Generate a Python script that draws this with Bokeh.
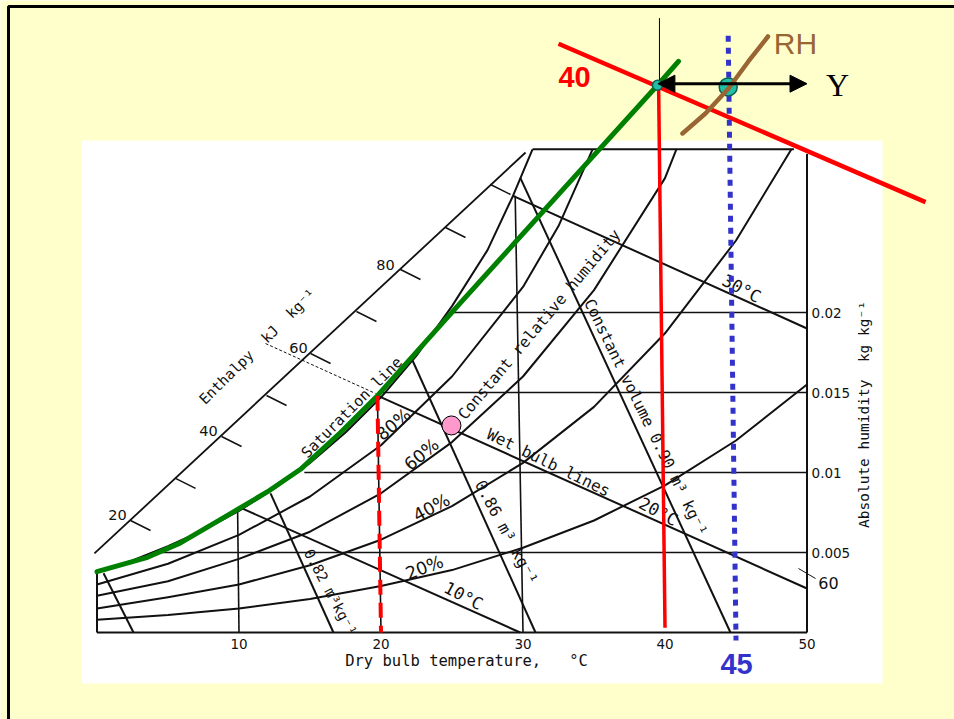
from math import radians

from bokeh.core.properties import value
from bokeh.embed import file_html
from bokeh.models import Arrow, NormalHead, Range1d
from bokeh.plotting import figure
from bokeh.resources import INLINE

# ------------------------------------------------------------------
# Psychrometric chart: dry bulb temperature (degC) vs absolute humidity (kg/kg)
# ------------------------------------------------------------------

# saturation line
sat_t = [0, 2.5, 5, 7.5, 10, 12.5, 15, 17.5, 20, 22.5, 25, 27.5, 29.3, 30.67]
sat_h = [0.0038, 0.0045, 0.0054, 0.0064, 0.0076, 0.0090, 0.0106, 0.0125, 0.0147,
         0.0173, 0.0204, 0.0239, 0.0273, 0.0302]

# constant relative humidity curves
rh80_t = [0, 5, 10, 15, 20, 25, 30, 32.5, 34.9]
rh80_h = [0.0030, 0.0043, 0.0061, 0.0085, 0.0117, 0.0160, 0.0216, 0.0254, 0.0302]
rh60_t = [0, 5, 10, 15, 20, 25, 30, 35, 40, 40.8]
rh60_h = [0.0023, 0.0032, 0.0046, 0.0063, 0.0087, 0.0119, 0.0160, 0.0214, 0.0284, 0.0302]
rh40_t = [0, 5, 10, 15, 20, 25, 30, 35, 40, 45, 48.9]
rh40_h = [0.0015, 0.0022, 0.0030, 0.0042, 0.0058, 0.0079, 0.0106, 0.0141, 0.0187, 0.0245, 0.0302]
rh20_t = [0, 5, 10, 15, 20, 25, 30, 35, 40, 45, 50]
rh20_h = [0.0008, 0.0011, 0.0015, 0.0021, 0.0029, 0.0039, 0.0053, 0.0070, 0.0092, 0.0120, 0.0155]

# chart box
t_max = 50
h_top = 0.0302
box_top_t = [30.67, 49.08]

# constant humidity lines (start on the saturation line, end at the right edge)
hum_levels = [0.005, 0.01, 0.015, 0.02]
hum_start_t = [4.26, 14.6, 19.8, 24.8]
hum_labels = ["0.005", "0.01", "0.015", "0.02"]

# dry bulb lines (start on the saturation line)
db_levels = [10, 20, 30]
db_top_t = [9.9, 19.75, 29.45]
db_top_h = [0.0078, 0.0148, 0.0273]
db_tick_labels = [10, 20, 30, 40, 50]

# wet bulb lines
wb_start_t = [10.1, 19.75, 29.26]
wb_start_h = [0.0078, 0.0148, 0.0273]
wb_end_t = [29.8, 50.0, 50.0]
wb_end_h = [0.0, 0.00275, 0.0190]

# constant specific volume lines
vol_top_t = [0.46, 12.22, 22.22, 29.82]
vol_top_h = [0.0037, 0.0087, 0.0170, 0.0284]
vol_bot_t = [2.57, 16.65, 30.88, 44.61]

# enthalpy scale
enth_axis_t = [-0.18, 30.18]
enth_axis_h = [0.00494, 0.0300]
enth_tick_t = [2.36, 5.53, 8.77, 11.94, 15.04, 18.27, 21.37, 24.54, 27.71]
enth_tick_h = [0.0070, 0.00963, 0.01225, 0.01481, 0.01744, 0.02006, 0.02269, 0.02531, 0.0280]
enth_labels = ["20", "40", "60", "80"]
enth_label_t = [1.44, 7.85, 14.19, 20.32]
enth_label_h = [0.007375, 0.012625, 0.0178, 0.0230]
enth_guide_t = [11.87, 19.61]
enth_guide_h = [0.01806, 0.01494]
enth_right_t = [49.4, 50.6]
enth_right_h = [0.0040, 0.003375]

# highlighted saturation curve and state lines drawn over the chart
green_t = [0, 3.56, 5.88, 8.2, 10.11, 12.01, 14.33, 17.15, 19.75, 25.8, 34.05, 39.47, 40.95]
green_h = [0.0038, 0.0047, 0.0056, 0.0068, 0.0078, 0.0088, 0.0102, 0.0125, 0.0148,
           0.0208, 0.0289, 0.0342, 0.0357]
dash20_t = [19.75, 20.0]
dash20_h = [0.0148, 0.0]
red40_t = [39.55, 40.0]
red40_h = [0.0342, 0.0003]
red_slant_t = [32.5, 58.35]
red_slant_h = [0.0368, 0.0269]
blue45_t = [44.45, 45.0]
blue45_h = [0.0373, -0.0005]
rh_curve_t = [47.25, 45.87, 44.47, 42.85, 41.23]
rh_curve_h = [0.03725, 0.03569, 0.0340, 0.03244, 0.03119]
state_t = [39.47, 44.45]
state_h = [0.0342, 0.0341]
pink_t, pink_h = 24.96, 0.01294
stem_t = [39.61, 39.61]
stem_h = [0.0384, 0.0342]
arrow_t = [39.5, 50.0]
arrow_h = 0.0343

# ------------------------------------------------------------------
X0, X1 = -6.796, 60.387
Y0, Y1 = -0.0054375, 0.0395
W, H = 954, 719
t_per_px = (X1 - X0) / W
h_per_px = (Y1 - Y0) / H

p = figure(width=W, height=H, x_range=Range1d(X0, X1), y_range=Range1d(Y0, Y1),
           output_backend="svg", toolbar_location=None, min_border=0,
           background_fill_color="#FFFFCC", border_fill_color="#FFFFCC",
           outline_line_color=None, x_axis_location=None, y_axis_location=None)
p.grid.visible = False

# slide frame and white scan panel
p.quad(left=[-6.232], right=[62], top=[0.039125], bottom=[-0.01],
       fill_color=None, line_color="black", line_width=3)
p.quad(left=[-1.092], right=[55.32], top=[0.03075], bottom=[-0.0031875],
       fill_color="white", line_color=None)

ink = "#111111"
SP = "\u00a0"  # non-breaking space keeps the wide letter spacing in SVG text

# chart box
p.line([0, t_max], [0, 0], line_color=ink, line_width=2)
p.line([0, 0], [0, sat_h[0]], line_color=ink, line_width=2)
p.line([t_max, t_max], [0, 0.0299], line_color=ink, line_width=2)
p.line(box_top_t, [h_top, h_top], line_color=ink, line_width=2)

# humidity and dry bulb lines
for h0, t0 in zip(hum_levels, hum_start_t):
    p.line([t0, t_max], [h0, h0], line_color=ink, line_width=1.6)
for t_b, t_t, h_t in zip(db_levels, db_top_t, db_top_h):
    p.line([t_t, t_b], [h_t, 0], line_color=ink, line_width=1.6)

# saturation and relative humidity curves
for ts, hs in [(sat_t, sat_h), (rh80_t, rh80_h), (rh60_t, rh60_h),
               (rh40_t, rh40_h), (rh20_t, rh20_h)]:
    p.line(ts, hs, line_color=ink, line_width=2, line_join="round")

# wet bulb lines
for a, b, c, d in zip(wb_start_t, wb_start_h, wb_end_t, wb_end_h):
    p.line([a, c], [b, d], line_color=ink, line_width=2)

# specific volume lines
for a, b, c in zip(vol_top_t, vol_top_h, vol_bot_t):
    p.line([a, c], [b, 0], line_color=ink, line_width=2)

# enthalpy scale
p.line(enth_axis_t, enth_axis_h, line_color=ink, line_width=1.8)
p.segment(x0=enth_tick_t, y0=enth_tick_h,
          x1=[t + 20 * t_per_px for t in enth_tick_t],
          y1=[h - 10 * h_per_px for h in enth_tick_h],
          line_color=ink, line_width=1.5)
p.line(enth_guide_t, enth_guide_h, line_color=ink, line_width=1, line_dash="3 2")
p.line(enth_right_t, enth_right_h, line_color=ink, line_width=1)


def label(t, h, s, size, angle=0.0, font="DejaVu Sans Mono", color=ink,
          style="normal", align="center", baseline="middle"):
    p.text(x=[t], y=[h], text=[s], angle=radians(angle), text_font=value(font),
           text_font_size=value(size), text_color=color, text_font_style=style,
           text_align=align, text_baseline=baseline)


# chart texts
for t in db_tick_labels:
    label(t, -0.000688, str(t), "13.5px", font="DejaVu Sans")
for h0, s in zip(hum_levels, hum_labels):
    label(50.32, h0, s, "13.5px", font="DejaVu Sans", align="left")
for t, h, s in zip(enth_label_t, enth_label_h, enth_labels):
    label(t, h, s, "14.5px", font="DejaVu Sans")
label(51.51, 0.003125, "60", "16px", font="DejaVu Sans")

label(26.02, -0.00175, "Dry bulb temperature," + SP * 3 + "\u00b0C", "15.5px")
label(53.98, 0.013625, "Absolute humidity" + SP * 2 + "kg kg\u207b\u00b9", "14.5px", angle=90)
label(11.3, 0.017875, "Enthalpy" + SP * 2 + "kJ" + SP * 2 + "kg\u207b\u00b9", "14.5px", angle=44.7)
label(17.94, 0.01406, "Saturation line", "15px", angle=45)
label(31.16, 0.01925, "Constant relative humidity", "15.5px", angle=50)
label(38.63, 0.01344, "Constant volume 0.90 m\u00b3 kg\u207b\u00b9", "15.5px", angle=-64)
label(28.84, 0.00625, "0.86 m\u00b3 kg\u207b\u00b9", "16px", angle=-62)
label(16.44, 0.0025, "0.82 m\u00b3kg\u207b\u00b9", "14.5px", angle=-62)
label(31.8, 0.010625, "Wet bulb lines", "16px", angle=-26)
label(25.81, 0.0023, "10\u00b0C", "17px", angle=-28)
label(39.54, 0.00756, "20\u00b0C", "17px", angle=-28)
label(45.39, 0.0215, "30\u00b0C", "17px", angle=-28)

for t, h, s, a in [(20.88, 0.0130, "80%", 40), (22.85, 0.011125, "60%", 40),
                   (23.56, 0.00781, "40%", 28), (23.06, 0.00406, "20%", 21)]:
    label(t, h, s, "17.5px", angle=a, font="DejaVu Sans")

# ------------------------------------------------------------------
# overlays
p.line(green_t, green_h, line_color="#008000", line_width=5,
       line_join="round", line_cap="round")
p.line(dash20_t, dash20_h, line_color="#FF0000", line_width=4, line_dash="15 8")
p.line(red40_t, red40_h, line_color="#FF0000", line_width=3.5)
p.line(red_slant_t, red_slant_h, line_color="#FF0000", line_width=4.5)
p.line(blue45_t, blue45_h, line_color="#3333CC", line_width=5, line_dash="6 6")
p.line(stem_t, stem_h, line_color="black", line_width=1)

p.add_layout(Arrow(start=NormalHead(size=17, fill_color="black", line_color="black"),
                   end=NormalHead(size=17, fill_color="black", line_color="black"),
                   x_start=arrow_t[0], y_start=arrow_h, x_end=arrow_t[1], y_end=arrow_h,
                   line_color="black", line_width=3))

p.scatter(state_t, state_h, marker="circle", size=[10, 18],
          fill_color="#20BFA5", line_color="#0B5F55", line_width=1.5)
p.line(rh_curve_t, rh_curve_h, line_color="#996633", line_width=4.5,
       line_cap="round", line_join="round")
p.scatter([pink_t], [pink_h], marker="circle", size=19,
          fill_color="#FF99CC", line_color="black", line_width=1)

label(33.63, 0.03469, "40", "29px", font="Liberation Sans", color="#FF0000", style="bold")
label(45.04, -0.00194, "45", "29px", font="Liberation Sans", color="#3333CC", style="bold")
label(49.19, 0.0368, "RH", "30px", font="Liberation Sans", color="#996633")
label(52.15, 0.03425, "Y", "32px", font="Liberation Serif", color="black")

open("out.html", "w").write(file_html(p, INLINE))
